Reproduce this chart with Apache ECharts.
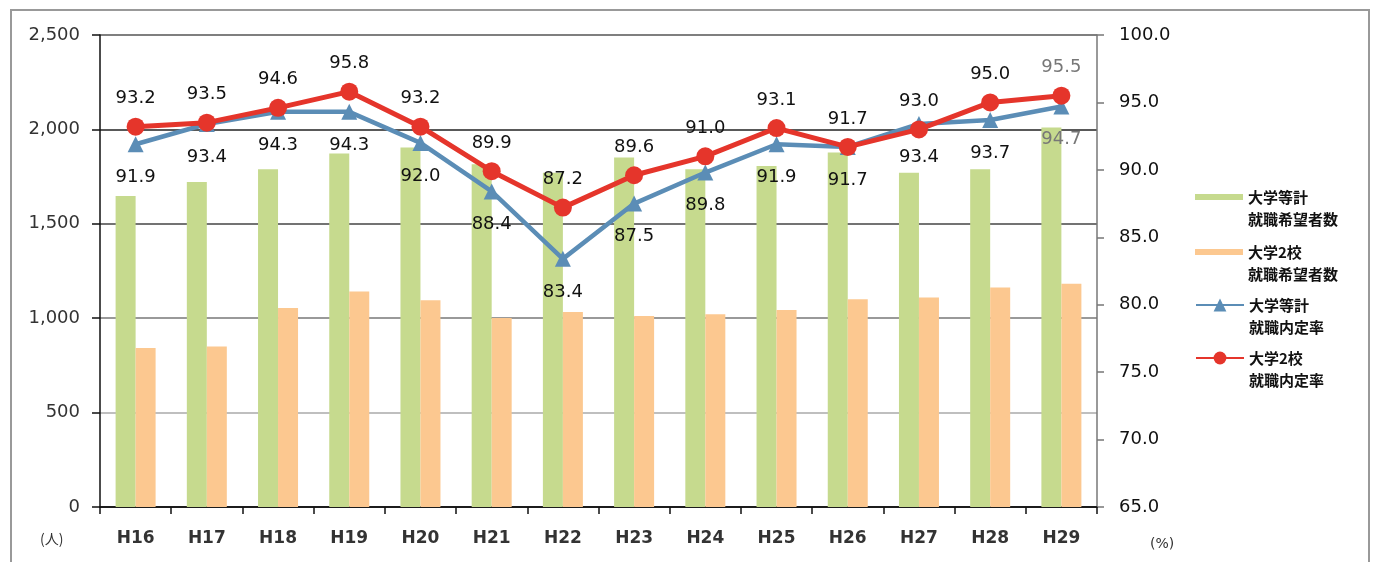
<!DOCTYPE html>
<html><head><meta charset="utf-8">
<script src="https://cdn.jsdelivr.net/npm/echarts@6/dist/echarts.min.js"></script>
<style>html,body{margin:0;padding:0;background:#fff}#c{width:1374px;height:562px}</style>
</head><body><div id="c"></div>
<script>
const categories = ['H16','H17','H18','H19','H20','H21','H22','H23','H24','H25','H26','H27','H28','H29'];
const applicantsAll = [1647,1721,1789,1872,1904,1815,1770,1851,1789,1806,1877,1771,1789,2010];
const applicants2 = [842,850,1054,1142,1095,1001,1033,1012,1021,1043,1100,1109,1162,1183];
const rateAll = [91.9,93.4,94.3,94.3,92.0,88.4,83.4,87.5,89.8,91.9,91.7,93.4,93.7,94.7];
const rate2 = [93.2,93.5,94.6,95.8,93.2,89.9,87.2,89.6,91.0,93.1,91.7,93.0,95.0,95.5];
const leftTicks = {min:0,max:2500,interval:500};
const rightTicks = {min:65,max:100,interval:5};
const names = ['大学等計\n就職希望者数','大学2校\n就職希望者数','大学等計\n就職内定率','大学2校\n就職内定率'];

const FONT = 'DejaVu Sans';
const CJK = '"Noto Sans CJK JP"';
const lastIdx = categories.length - 1;
function lineData(arr){
  return arr.map((v,i)=> i===lastIdx ? {value:v,label:{color:'#777'}} : v);
}
function legendAt(name, top, icon, ih){
  return {
    data:[{name:name, icon:icon}], left:1195, top:top, padding:0,
    itemWidth:48, itemHeight:ih, orient:'vertical',
    formatter: n => '{t|}\n{t|' + n.split('\n')[0] + '}\n{t|' + n.split('\n')[1] + '}',
    textStyle:{fontFamily:CJK, fontSize:15, fontWeight:'bold', color:'#111', lineHeight:22,
      rich:{t:{fontFamily:CJK, fontSize:15, fontWeight:'bold', color:'#111', lineHeight:22, height:22}}}
  };
}
const chart = echarts.init(document.getElementById('c'), null, {renderer:'canvas'});
chart.setOption({
  animation:false,
  backgroundColor:'#fff',
  grid:{left:100, right:277, top:35, bottom:55},
  legend:[
    legendAt(names[0], 164, 'rect', 6),
    legendAt(names[1], 219, 'rect', 6),
    legendAt(names[2], 272, undefined, 16),
    legendAt(names[3], 325, undefined, 16)
  ],
  xAxis:{
    type:'category', data:categories,
    axisLine:{lineStyle:{color:'#111', width:1.5}},
    axisTick:{show:true, length:7, lineStyle:{color:'#111', width:1.5}},
    axisLabel:{margin:23, fontFamily:FONT, fontSize:17, fontWeight:'bold', color:'#333'}
  },
  yAxis:[
    {type:'value', min:leftTicks.min, max:leftTicks.max, interval:leftTicks.interval,
     axisLine:{show:true, lineStyle:{color:'#111', width:1.5}},
     axisTick:{show:true, length:8, lineStyle:{color:'#111', width:1.5}},
     axisLabel:{margin:20, fontFamily:FONT, fontSize:18, color:'#333',
       formatter:v=>v.toLocaleString('en-US')},
     splitLine:{show:true, lineStyle:{color:['#000','#aaa','#777','#444','#222','#555'], width:1.5}}
    },
    {type:'value', min:rightTicks.min, max:rightTicks.max, interval:rightTicks.interval, position:'right',
     axisLine:{show:true, lineStyle:{color:'#777', width:1.5}},
     axisTick:{show:true, length:7, lineStyle:{color:'#777', width:1.5}},
     axisLabel:{margin:22, fontFamily:FONT, fontSize:18, color:'#111', formatter:v=>v.toFixed(1)},
     splitLine:{show:false}
    }
  ],
  series:[
    {name:names[0], type:'bar', data:applicantsAll, barWidth:20, barGap:'0%',
     itemStyle:{color:'#c6da8e'}},
    {name:names[1], type:'bar', data:applicants2, barWidth:20,
     itemStyle:{color:'#fcc890'}},
    {name:names[2], type:'line', yAxisIndex:1, data:lineData(rateAll),
     symbol:'triangle', symbolSize:16,
     lineStyle:{color:'#5b8db6', width:4.5}, itemStyle:{color:'#5b8db6'},
     label:{show:true, position:'bottom', distance:16, fontFamily:FONT, fontSize:18, color:'#111',
       formatter:p=>Number(p.value).toFixed(1)}},
    {name:names[3], type:'line', yAxisIndex:1, data:lineData(rate2),
     symbol:'circle', symbolSize:18,
     lineStyle:{color:'#e5352b', width:5}, itemStyle:{color:'#e5352b'},
     label:{show:true, position:'top', distance:10, fontFamily:FONT, fontSize:18, color:'#111',
       formatter:p=>Number(p.value).toFixed(1)}}
  ],
  graphic:[
    {type:'rect', shape:{x:11, y:10, width:1358, height:570}, style:{fill:'none', stroke:'#999', lineWidth:2}, silent:true},
    {type:'text', left:40, top:532, style:{text:'(人)', font:'14px "Noto Sans CJK JP"', fill:'#333'}},
    {type:'text', left:1150, top:537, style:{text:'(%)', font:'14px "DejaVu Sans"', fill:'#333'}}
  ]
});
</script></body></html>
